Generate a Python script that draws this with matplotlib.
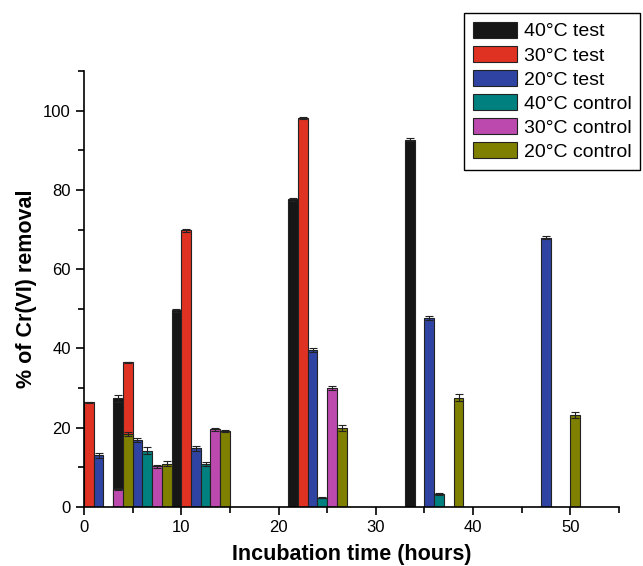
import matplotlib
matplotlib.use("Agg")
import matplotlib.pyplot as plt
import numpy as np
from matplotlib.ticker import MultipleLocator

plt.rcParams['font.family'] = ['Liberation Sans', 'DejaVu Sans']

# sampling times (hours) and series
times = np.array([0, 4, 10, 22, 34, 46])
labels = ['40°C test', '30°C test', '20°C test',
          '40°C control', '30°C control', '20°C control']
colors = ['#161616', '#e03222', '#2f44a2', '#00807e', '#bc4aae', '#7f7f00']

# nan = no bar at that time
test_40 = [np.nan, 27.4, 49.6, 77.6, 92.7, np.nan]
test_30 = [26.4, 36.5, 69.8, 98.2, np.nan, np.nan]
test_20 = [13.0, 17.0, 14.8, 39.6, 47.7, 67.9]
ctrl_40 = [np.nan, 14.2, 10.8, 2.4, 3.3, np.nan]
ctrl_30 = [4.5, 10.3, 19.6, 30.0, np.nan, np.nan]
ctrl_20 = [18.4, 10.9, 19.2, 19.9, 27.6, 23.2]

err_40t = [0, 0.8, 0.3, 0.3, 0.3, 0]
err_30t = [0.2, 0.2, 0.4, 0.3, 0, 0]
err_20t = [0.6, 0.5, 0.7, 0.6, 0.6, 0.4]
err_40c = [0, 0.9, 0.5, 0.2, 0.2, 0]
err_30c = [0.3, 0.4, 0.4, 0.5, 0, 0]
err_20c = [0.6, 0.6, 0.3, 0.8, 0.8, 0.8]

series = [test_40, test_30, test_20, ctrl_40, ctrl_30, ctrl_20]
errs = [err_40t, err_30t, err_20t, err_40c, err_30c, err_20c]
offsets = [-0.5, 0.5, 1.5, 2.5, 3.5, 4.5]

fig = plt.figure(figsize=(6.43, 5.66), dpi=100)
ax = fig.add_axes([0.1306, 0.1042, 0.8321, 0.7704])

handles = []
for vals, err, off, col, lab in zip(series, errs, offsets, colors, labels):
    vals = np.array(vals, dtype=float)
    err = np.array(err, dtype=float)
    m = ~np.isnan(vals)
    ax.bar(times[m] + off, vals[m], width=1.0, color=col, edgecolor='#222222',
           linewidth=0.8, yerr=err[m], capsize=3,
           error_kw=dict(ecolor='#222222', elinewidth=0.8, capthick=0.8))
    handles.append(plt.Rectangle((0, 0), 1, 1, facecolor=col,
                                 edgecolor='#222222', linewidth=0.8))

ax.set_xlim(0, 55)
ax.set_ylim(0, 110)
ax.xaxis.set_major_locator(MultipleLocator(10))
ax.xaxis.set_minor_locator(MultipleLocator(5))
ax.yaxis.set_major_locator(MultipleLocator(20))
ax.yaxis.set_minor_locator(MultipleLocator(10))
ax.tick_params(which='major', direction='out', length=6, width=1.2, labelsize=12)
ax.tick_params(which='minor', direction='out', length=4, width=1.2)
ax.spines['top'].set_visible(False)
ax.spines['right'].set_visible(False)
ax.spines['left'].set_linewidth(1.2)
ax.spines['bottom'].set_linewidth(1.2)

ax.set_xlabel('Incubation time (hours)', fontsize=15.5, fontweight='bold', labelpad=6)
ax.set_ylabel('% of Cr(VI) removal', fontsize=15.5, fontweight='bold', labelpad=4)

leg = fig.legend(handles, labels, loc='upper right',
                 bbox_to_anchor=(640 / 643, 1 - 13 / 566), borderaxespad=0,
                 fontsize=14, handlelength=2.27, handleheight=0.88,
                 labelspacing=0.28, handletextpad=0.35, borderpad=0.45,
                 fancybox=False, framealpha=1, edgecolor='black')
leg.get_frame().set_linewidth(1.0)

fig.savefig('out.png', dpi=100)
